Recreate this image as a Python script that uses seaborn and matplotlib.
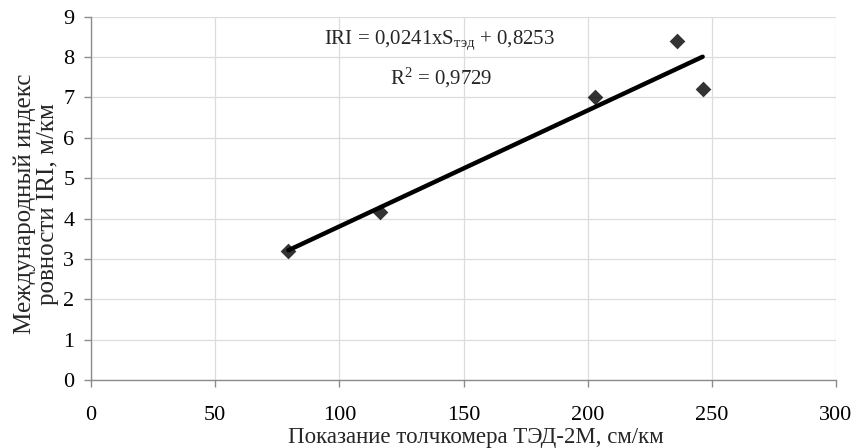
import numpy as np
import pandas as pd
import matplotlib
matplotlib.use("Agg")
import matplotlib.pyplot as plt
import seaborn as sns

# ---- data ----
ted_readings = [79.5, 116.4, 203.0, 235.9, 246.3]      # cm/km (x)
iri_values = [3.20, 4.16, 7.00, 8.39, 7.22]            # m/km (y)
x_ticks = [0, 50, 100, 150, 200, 250, 300]
y_ticks = [0, 1, 2, 3, 4, 5, 6, 7, 8, 9]
eq_text = r"IRI = 0,0241xS$_{\mathregular{тэд}}$ + 0,8253"
r2_text = r"R$^{\mathregular{2}}$ = 0,9729"
x_label = "Показание толчкомера ТЭД-2М, см/км"
y_label = "Международный индекс\nровности IRI, м/км"

df = pd.DataFrame({"ted": ted_readings, "iri": iri_values})

sns.set_style("white")
plt.rcParams["font.family"] = ["Liberation Serif", "DejaVu Serif"]
plt.rcParams["mathtext.fontset"] = "custom"
plt.rcParams["mathtext.rm"] = "Liberation Serif"
plt.rcParams["mathtext.it"] = "Liberation Serif"

fig = plt.figure(figsize=(8.63, 4.48), dpi=100)
ax = fig.add_axes([91 / 863, 1 - 380 / 448, 745 / 863, (380 - 16.7) / 448])

sns.regplot(data=df, x="ted", y="iri", ax=ax, ci=None, marker="D",
            scatter_kws={"s": 64, "color": "black", "zorder": 3, "linewidths": 0},
            line_kws={"color": "black", "lw": 3.2, "zorder": 4})

ax.set_xlim(0, 300)
ax.set_ylim(0, 9)
ax.set_xticks(x_ticks)
ax.set_yticks(y_ticks)
ax.grid(True, color="#dcdcdc", lw=0.9)
ax.set_axisbelow(True)

for s in ["top", "right"]:
    ax.spines[s].set_visible(False)
for s in ["left", "bottom"]:
    ax.spines[s].set_color("#8c8c8c")
    ax.spines[s].set_linewidth(1.0)

ax.tick_params(axis="x", direction="out", length=5, width=1, color="#8c8c8c",
               pad=14, labelsize=16, labelcolor="black", bottom=True)
ax.tick_params(axis="y", direction="out", length=5, width=1, color="#8c8c8c",
               pad=7, labelsize=16, labelcolor="black", left=True)

ax.set_xlabel(x_label, fontsize=16.5)
ax.xaxis.set_label_coords(0.516, -0.128)
ax.set_ylabel(y_label, fontsize=18, linespacing=1.05, ha="center", va="center")
ax.yaxis.set_label_coords(-0.073, 0.485)

ax.text(140.5, 8.42, eq_text, ha="center", va="center", fontsize=15)
ax.text(141, 7.48, r2_text, ha="center", va="center", fontsize=15)

fig.savefig("out.png", dpi=100)
